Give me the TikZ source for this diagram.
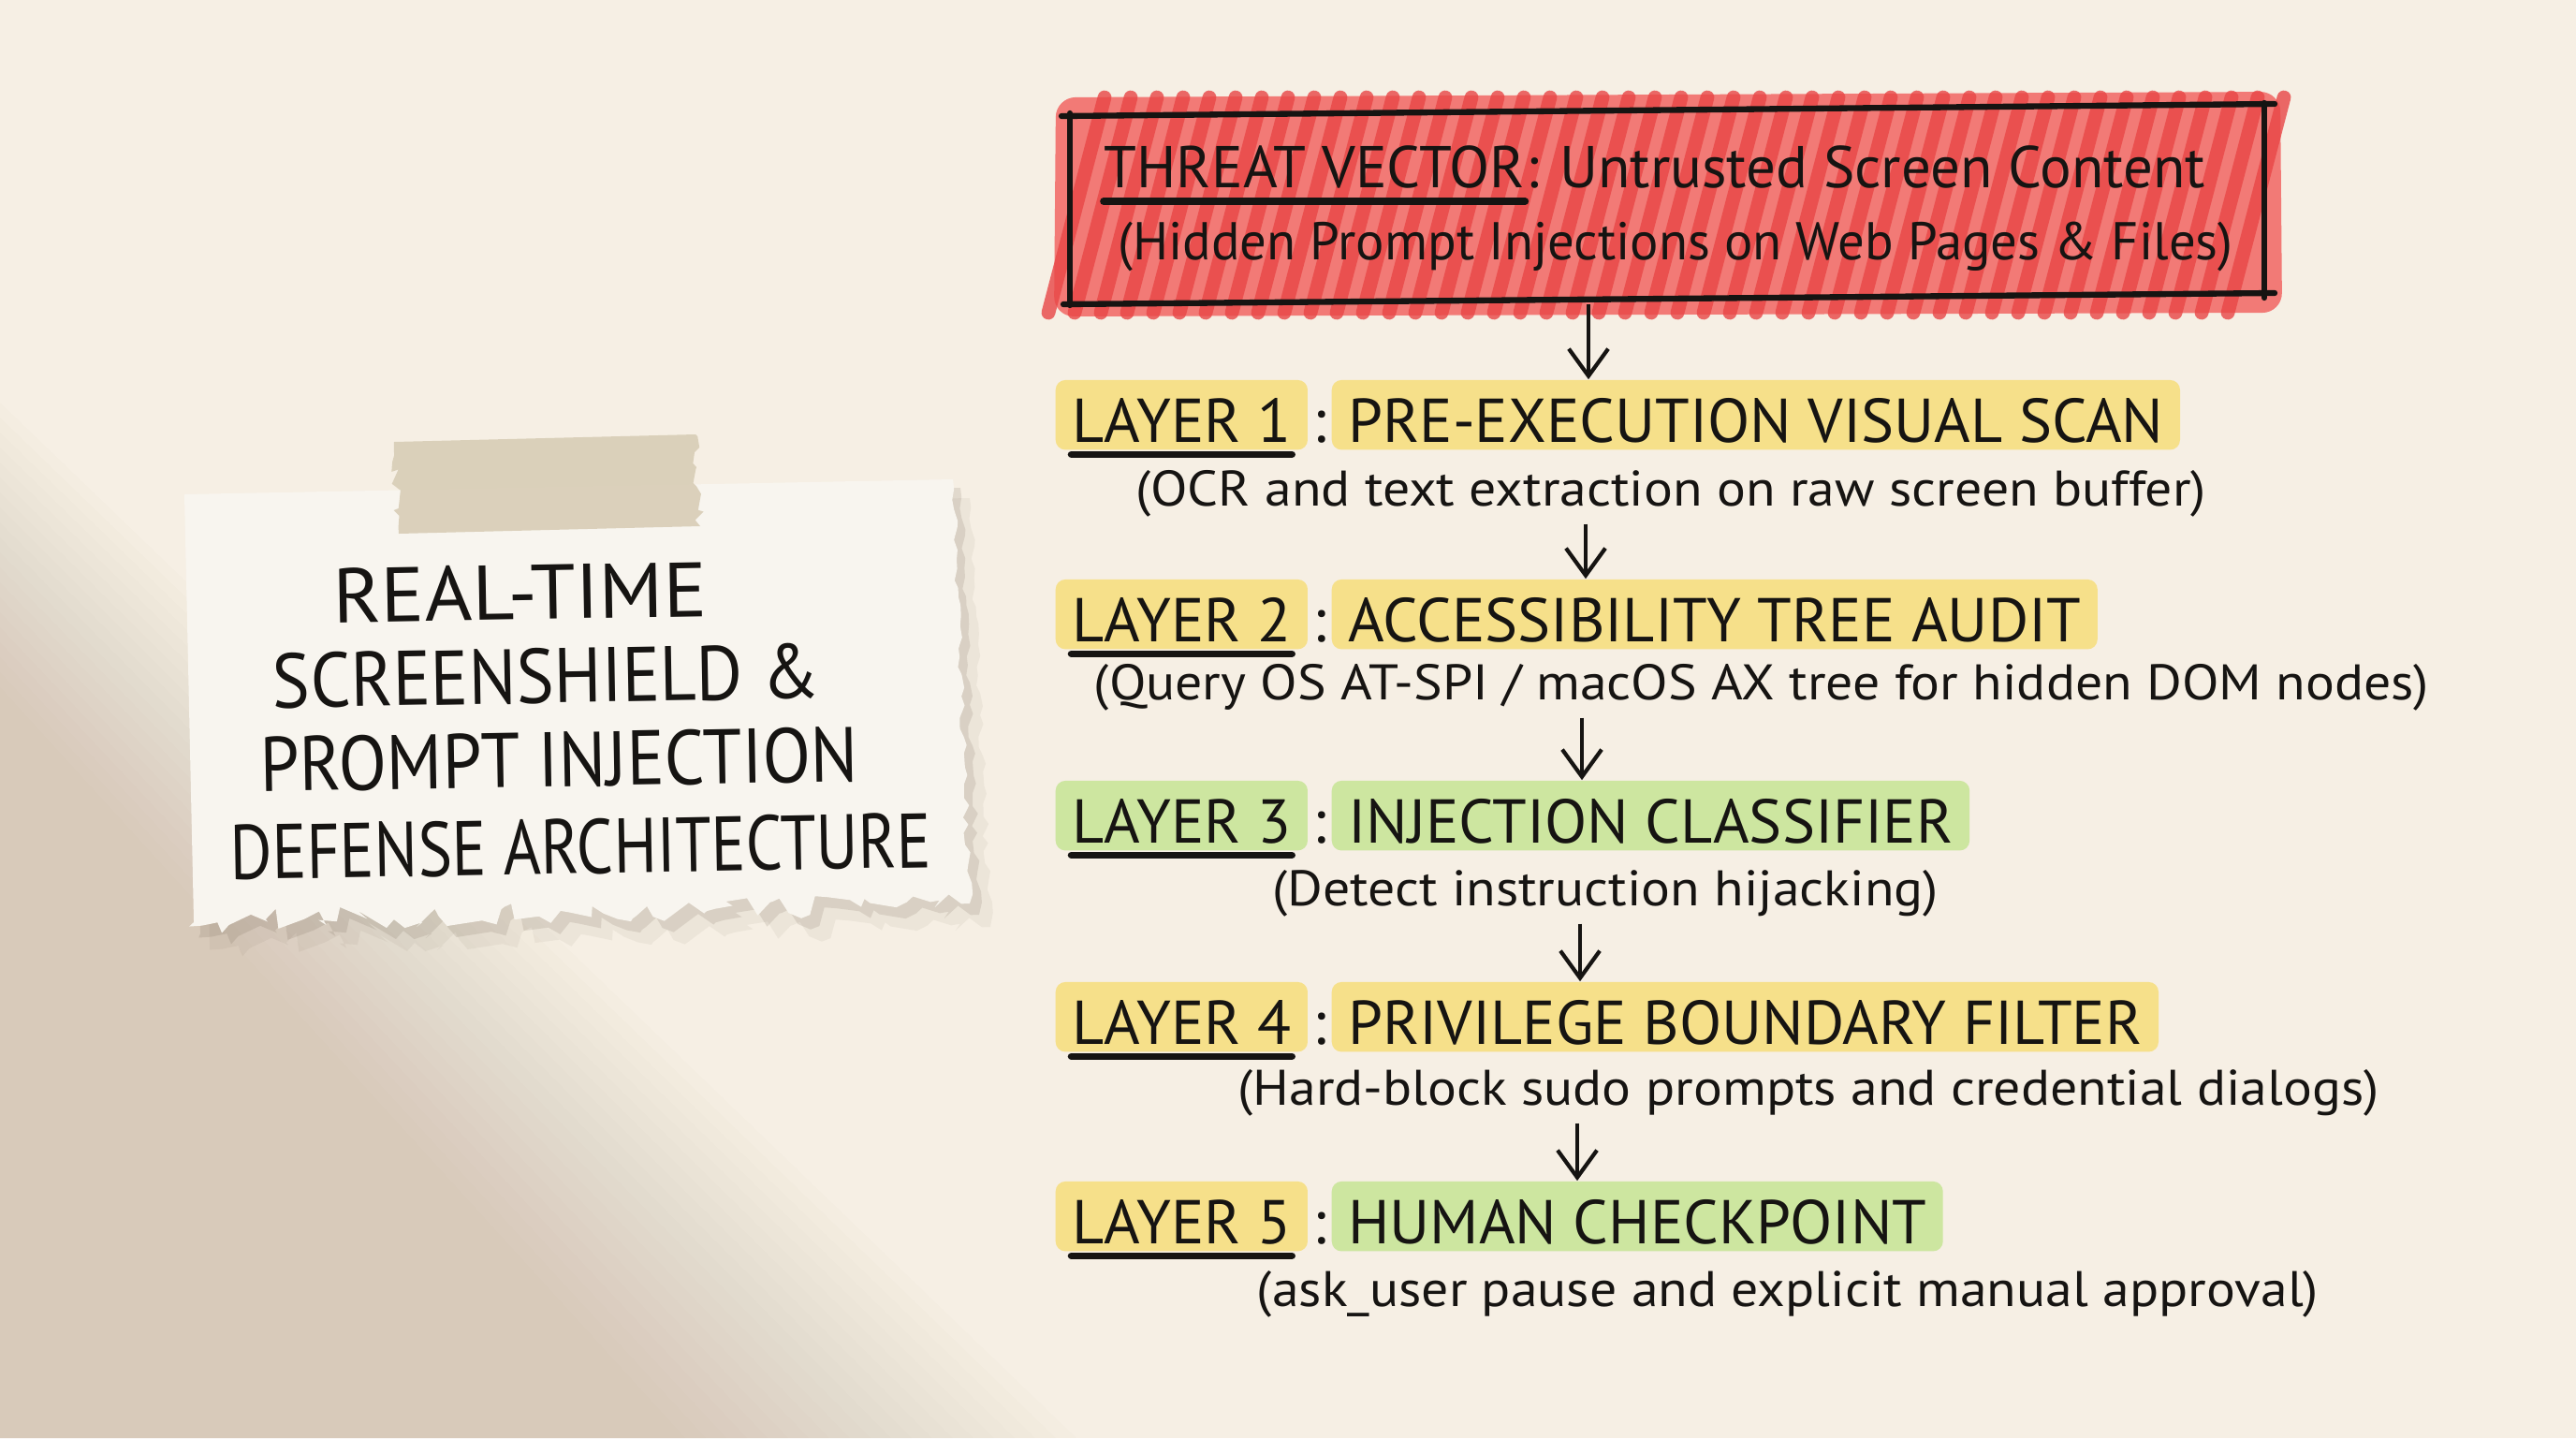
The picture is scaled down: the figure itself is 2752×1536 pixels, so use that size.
\documentclass[tikz,border=0pt]{standalone}
\usepackage{fontspec}
\usepackage{graphicx}
\setmainfont{PT Sans}
\newfontfamily\handT{PT Sans}[FakeStretch=0.82]
\newfontfamily\handS{PT Sans}[FakeStretch=1.08]
\usetikzlibrary{arrows.meta,decorations.pathmorphing}
\definecolor{bg}{HTML}{F6EFE4}
\definecolor{shd}{HTML}{B09A7A}
\definecolor{hlY}{HTML}{F6E08A}
\definecolor{hlG}{HTML}{CDE6A0}
\definecolor{redA}{HTML}{E84646}
\definecolor{redB}{HTML}{F27A76}
\definecolor{paper}{HTML}{F8F5EF}
\definecolor{tape}{HTML}{D8CDB6}
\definecolor{ink}{HTML}{161412}
\definecolor{pshadow}{HTML}{5A4A38}
\tikzset{
  hl/.style={inner xsep=5pt, inner ysep=2.4pt, text height=16.4pt, text depth=0pt,
    rounded corners=3pt, font=\fontsize{18.8}{22}\selectfont, text=ink},
  hlY/.style={hl, fill=hlY},
  hlG/.style={hl, fill=hlG},
  colon/.style={inner xsep=1.2pt, inner ysep=2.4pt, text height=16.4pt, text depth=0pt,
    font=\fontsize{18.8}{22}\selectfont, text=ink},
  sub/.style={inner sep=0pt, font=\handS\fontsize{15.2}{18}\selectfont, text=ink},
  thr/.style={inner sep=0pt, font=\fontsize{17.9}{20}\selectfont, text=ink},
  thrb/.style={inner sep=0pt, font=\fontsize{16.15}{20}\selectfont, text=ink},
  ttl/.style={inner sep=0pt, font=\handT\fontsize{23.5}{28}\selectfont, text=ink, rotate=1},
  uline/.style={line width=2.2pt, line cap=round, draw=ink},
  arr/.style={-{Straight Barb[length=0.29cm,width=0.42cm]}, line width=1.2pt, draw=ink,
    shorten <=2pt},
  boxline/.style={line width=1.8pt, draw=ink, line cap=round},
  redstroke/.style={line width=4.2pt, line cap=round, draw=redA, opacity=0.8}
}
\begin{document}
\begin{tikzpicture}[x=0.01cm,y=-0.01cm]
\useasboundingbox (0,0) rectangle (2752,1536);
\fill[bg] (0,0) rectangle (2752,1536);
% soft diagonal shadow at lower left
\foreach \k in {0,...,19}
  \fill[shd, opacity=0.018] (0,430+\k*16) -- (1150-\k*22,1536) -- (0,1536) -- cycle;

% ---------- paper note ----------
\pgfmathsetseed{7}
\fill[pshadow, opacity=0.06]
  (216,548) -- (1036,532)
  decorate[decoration={random steps,segment length=3pt,amplitude=1pt}] {-- (1058,990)}
  decorate[decoration={random steps,segment length=3pt,amplitude=3.5pt}] {-- (224,1010)} -- cycle;
\pgfmathsetseed{7}
\fill[pshadow, opacity=0.13]
  (206,537) -- (1026,521)
  decorate[decoration={random steps,segment length=3pt,amplitude=1pt}] {-- (1046,977)}
  decorate[decoration={random steps,segment length=3pt,amplitude=3.5pt}] {-- (214,997)} -- cycle;
\pgfmathsetseed{7}
\fill[paper]
  (197,528) -- (1018,512)
  decorate[decoration={random steps,segment length=3pt,amplitude=1pt}] {-- (1036,965)}
  decorate[decoration={random steps,segment length=3pt,amplitude=3.5pt}] {-- (207,985)} -- cycle;
% tape
\pgfmathsetseed{3}
\fill[tape, opacity=0.9]
  (421,472) -- (743,464)
  decorate[decoration={random steps,segment length=2pt,amplitude=1.5pt}] {-- (748,562)}
  -- (426,570)
  decorate[decoration={random steps,segment length=2pt,amplitude=1.5pt}] {-- cycle};

\node[ttl, anchor=base] (t1) at (556,662) {\scalebox{1.28}[1]{REAL-TIME}};
\node[ttl, anchor=base] (t2) at (584,751) {\scalebox{1.116}[1]{SCREENSHIELD \&}};
\node[ttl, anchor=base] (t3) at (598,840) {\scalebox{1.11}[1]{PROMPT INJECTION}};
\node[ttl, anchor=base] (t4) at (621,933) {\scalebox{1.015}[1]{DEFENSE ARCHITECTURE}};

% ---------- threat box ----------
\fill[redB, rounded corners=6pt] (1128,104) -- (2436,98) -- (2438,334) -- (1126,338) -- cycle;
\foreach \i in {0,...,45}
  \draw[redstroke] (1120+\i*28,334) -- ++(60,-230);
\node[minimum width=12.81cm, minimum height=1.98cm, inner sep=0pt] (threat) at (1782,218) {};
\draw[boxline] (1134,124) -- (2430,111);
\draw[boxline] (1136,325) -- (2430,313);
\draw[boxline] (1143,121) -- (1143,326);
\draw[boxline] (2419,110) -- (2419,318);
\node[thr, anchor=base west] (thA) at (1179,200) {THREAT VECTOR};
\node[thr, anchor=base west] (thB) at (thA.base east) {: Untrusted Screen Content};
\node[thrb, anchor=base] (thC) at (1790,277) {(Hidden Prompt Injections on Web Pages \& Files)};
\draw[uline] ([yshift=-4.3pt]thA.base west) -- ([yshift=-4.3pt]thA.base east);

% ---------- layers ----------
\coordinate (ax1) at (1697,0);
\coordinate (ax2) at (1694,0);
\coordinate (ax3) at (1690,0);
\coordinate (ax4) at (1688,0);
\coordinate (ax5) at (1685,0);

\node[hlY, anchor=base west] (l1lab) at (1127,472) {LAYER 1};
\node[colon, anchor=base west] (l1c) at (l1lab.base east) {:};
\node[hlY, anchor=base west] (l1main) at (l1c.base east) {PRE-EXECUTION VISUAL SCAN};
\node[sub, anchor=base] (s1) at (1785,540) {(OCR and text extraction on raw screen buffer)};

\node[hlY, anchor=base west] (l2lab) at (1127,685) {LAYER 2};
\node[colon, anchor=base west] (l2c) at (l2lab.base east) {:};
\node[hlY, anchor=base west] (l2main) at (l2c.base east) {ACCESSIBILITY TREE AUDIT};
\node[sub, anchor=base] (s2) at (1882,747) {(Query OS AT-SPI / macOS AX tree for hidden DOM nodes)};

\node[hlG, anchor=base west] (l3lab) at (1127,900) {LAYER 3};
\node[colon, anchor=base west] (l3c) at (l3lab.base east) {:};
\node[hlG, anchor=base west] (l3main) at (l3c.base east) {INJECTION CLASSIFIER};
\node[sub, anchor=base] (s3) at (1715,967) {(Detect instruction hijacking)};

\node[hlY, anchor=base west] (l4lab) at (1127,1115) {LAYER 4};
\node[colon, anchor=base west] (l4c) at (l4lab.base east) {:};
\node[hlY, anchor=base west] (l4main) at (l4c.base east) {PRIVILEGE BOUNDARY FILTER};
\node[sub, anchor=base] (s4) at (1932,1180) {(Hard-block sudo prompts and credential dialogs)};

\node[hlY, anchor=base west] (l5lab) at (1127,1328) {LAYER 5};
\node[colon, anchor=base west] (l5c) at (l5lab.base east) {:};
\node[hlG, anchor=base west] (l5main) at (l5c.base east) {HUMAN CHECKPOINT};
\node[sub, anchor=base] (s5) at (1910,1395) {(ask\_user pause and explicit manual approval)};

\foreach \n in {1,...,5}
  \draw[uline] ([xshift=5pt,yshift=-3.8pt]l\n lab.base west) -- ([xshift=-5pt,yshift=-3.8pt]l\n lab.base east);

\draw[arr] (threat.south -| ax1) -- (l1main.north -| ax1);
\draw[arr] (s1.south -| ax2) -- (l2main.north -| ax2);
\draw[arr] (s2.south -| ax3) -- (l3main.north -| ax3);
\draw[arr] (s3.south -| ax4) -- (l4main.north -| ax4);
\draw[arr] (s4.south -| ax5) -- (l5main.north -| ax5);
\end{tikzpicture}
\end{document}
